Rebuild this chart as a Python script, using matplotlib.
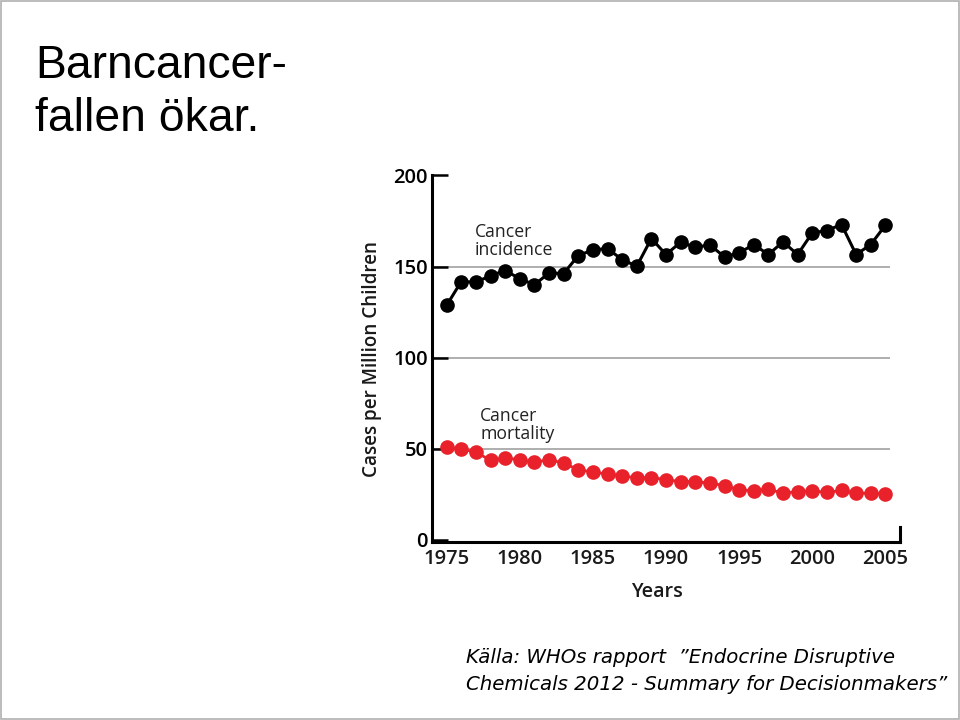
import matplotlib
matplotlib.use("Agg")
import matplotlib.pyplot as plt
from matplotlib.patches import Rectangle

years = list(range(1975, 2006))
incidence = [128.7, 141.8, 141.4, 145.0, 147.8, 143.4, 140.0, 146.5, 146.2, 156.0,
             159.2, 159.9, 153.8, 150.2, 165.4, 156.6, 163.4, 160.6, 161.9, 155.3,
             157.5, 162.1, 156.6, 163.6, 156.6, 168.5, 169.8, 173.1, 156.6, 162.1, 172.7]
mortality = [50.7, 49.8, 48.2, 43.6, 44.9, 44.0, 42.5, 44.0, 42.1, 38.5,
             37.2, 36.1, 35.2, 33.9, 34.2, 33.0, 32.0, 32.0, 31.1, 29.8,
             27.5, 26.9, 27.8, 25.6, 26.5, 26.9, 26.0, 27.1, 25.6, 25.6, 25.1]
yticks = [0, 50, 100, 150, 200]
xticks = [1975, 1980, 1985, 1990, 1995, 2000, 2005]

chart_font = "Open Sans"
tick_fs = 14.5

fig = plt.figure(figsize=(9.6, 7.2), dpi=100)
fig.patch.set_facecolor("white")
fig.patches.append(Rectangle((0.001, 0.001), 0.998, 0.997, transform=fig.transFigure,
                             fill=False, edgecolor="#b0b0b0", linewidth=1.2))

fig.text(35 / 960, 1 - 131 / 720, "Barncancer-\nfallen ökar.", family="Liberation Sans",
         fontsize=33.3, ha="left", va="baseline", linespacing=1.26, color="black")

ax = fig.add_axes([432 / 960, 1 - 542 / 720, 468 / 960, (542 - 175.5) / 720])
ax.set_xlim(1974, 2006)
ax.set_ylim(-1.2, 200)

for v in yticks[1:]:
    ax.hlines(v, 1974, 2005.3, color="#a8a8a8", linewidth=1.3, zorder=1)

ax.plot(years, incidence, color="black", linewidth=2.2, marker="o", markersize=9.5,
        zorder=3, clip_on=False)
ax.plot(years, mortality, color="#e8212b", linewidth=2.0, marker="o", markersize=9.5,
        zorder=3, clip_on=False)

ax.spines["top"].set_visible(False)
for s in ["left", "bottom", "right"]:
    ax.spines[s].set_linewidth(2.2)
ax.spines["right"].set_bounds(-1.2, 7)
ax.spines["left"].set_bounds(-1.2, 200)

ax.set_yticks(yticks)
ax.set_yticklabels([str(v) for v in yticks], family=chart_font, fontsize=tick_fs,
                   fontweight="semibold", color="#1a1a1a")
ax.tick_params(axis="y", direction="in", length=11.5, width=1.8, pad=3, colors="black")
ax.set_xticks(xticks)
ax.set_xticklabels([str(v) for v in xticks], family=chart_font, fontsize=tick_fs,
                   fontweight="semibold", color="#1a1a1a")
ax.tick_params(axis="x", length=0, pad=5)
ax.tick_params(axis="y", right=False)

ax.set_ylabel("Cases per Million Children", family=chart_font, fontsize=13.6,
              fontweight="semibold", color="#1a1a1a", labelpad=8)
ax.set_xlabel("Years", family=chart_font, fontsize=14.2, fontweight="semibold",
              color="#1a1a1a")
ax.xaxis.set_label_coords((657 - 432) / 468, -0.108)

ax.text(1976.9, 174, "Cancer\nincidence", family=chart_font, fontsize=12.7, ha="left",
        va="top", linespacing=1.0, color="#222222")
ax.text(1977.3, 73, "Cancer\nmortality", family=chart_font, fontsize=12.7, ha="left",
        va="top", linespacing=1.0, color="#222222")

fig.text(466 / 960, 1 - 690 / 720,
         "Källa: WHOs rapport  \u201dEndocrine Disruptive\nChemicals 2012 - Summary for Decisionmakers\u201d",
         family="DejaVu Sans", style="italic", fontsize=14.2, ha="left", va="baseline",
         linespacing=1.55, color="black")

fig.savefig("out.png", dpi=100, facecolor="white")
